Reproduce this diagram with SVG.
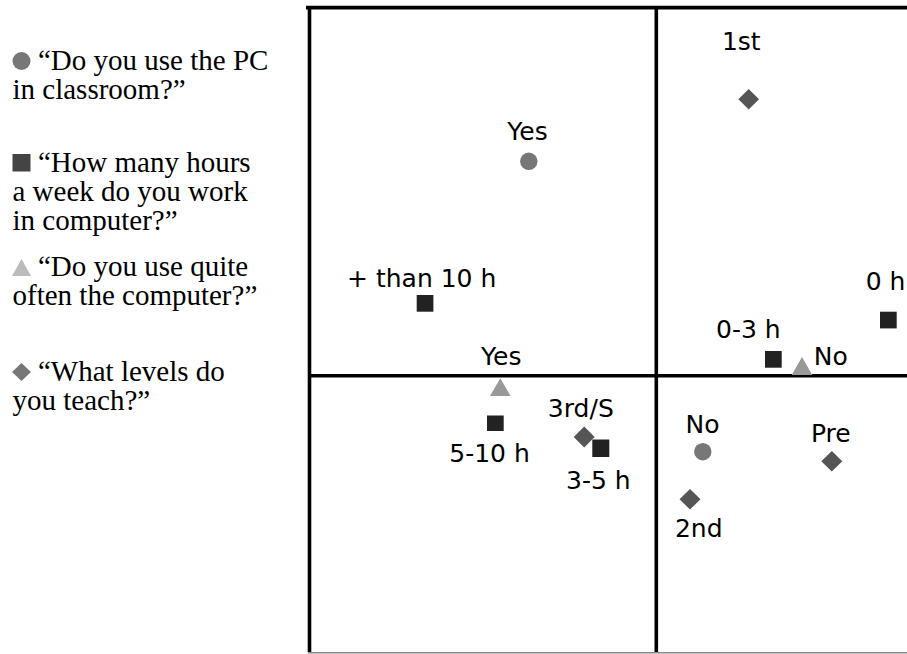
<svg xmlns="http://www.w3.org/2000/svg" width="907" height="654" viewBox="0 0 907 654">
<style>
.leg{font-family:"Liberation Serif","Times New Roman",serif;font-size:29px;fill:#000}
.lab{font-family:"DejaVu Sans","Verdana",sans-serif;font-size:25px;fill:#000;text-anchor:middle}
.ax{stroke:#000;stroke-width:3.6;fill:none}
.circ{fill:#777}
.sq{fill:#222}
.tri{fill:#999}
.dia{fill:#555}
</style>
<rect width="907" height="654" fill="#fff"/>
<g id="legend">
  <g id="legend-pc">
    <circle cx="21.5" cy="61" r="9" fill="#777"/>
    <text class="leg" x="38" y="70">“Do you use the PC</text>
    <text class="leg" x="12.5" y="99">in classroom?”</text>
  </g>
  <g id="legend-hours">
    <rect x="12.5" y="154" width="18" height="17.5" fill="#444"/>
    <text class="leg" x="38" y="172">“How many hours</text>
    <text class="leg" x="12.5" y="201">a week do you work</text>
    <text class="leg" x="12.5" y="230">in computer?”</text>
  </g>
  <g id="legend-often">
    <polygon points="21.5,259 31,276 12,276" fill="#bbb"/>
    <text class="leg" x="38" y="276">“Do you use quite</text>
    <text class="leg" x="12.5" y="305">often the computer?”</text>
  </g>
  <g id="legend-levels">
    <polygon points="21.5,363 31,372 21.5,381 12,372" fill="#777"/>
    <text class="leg" x="38" y="381">“What levels do</text>
    <text class="leg" x="12.5" y="410">you teach?”</text>
  </g>
</g>
<g id="frame">
  <line class="ax" x1="306" y1="7.6" x2="907" y2="7.6"/>
  <line class="ax" x1="309.5" y1="6" x2="309.5" y2="652"/>
  <line class="ax" x1="656.3" y1="6" x2="656.3" y2="652"/>
  <line class="ax" x1="309" y1="375.8" x2="907" y2="375.8"/>
  <line x1="308" y1="652.8" x2="907" y2="652.8" stroke="#888" stroke-width="1.6"/>
</g>
<g id="connectors"></g>
<g id="n-1st">
  <polygon class="dia" points="748.7,89 759,99.2 748.7,109.5 738.4,99.2"/>
  <text class="lab" x="741.3" y="50">1st</text>
</g>
<g id="n-pc-yes">
  <circle class="circ" cx="528.8" cy="161.3" r="8.7"/>
  <text class="lab" x="527.5" y="140">Yes</text>
</g>
<g id="n-more10h">
  <rect class="sq" x="416.7" y="295" width="16.7" height="16.7"/>
  <text class="lab" x="421.7" y="287">+ than 10 h</text>
</g>
<g id="n-0h">
  <rect class="sq" x="880" y="311.7" width="16.7" height="16.7"/>
  <text class="lab" x="885.5" y="290">0 h</text>
</g>
<g id="n-0-3h">
  <rect class="sq" x="765" y="351" width="16.7" height="16.7"/>
  <text class="lab" x="748.3" y="338">0-3 h</text>
</g>
<g id="n-often-no">
  <polygon class="tri" points="802,357 812.3,375 791.7,375"/>
  <text class="lab" x="830.7" y="365">No</text>
</g>
<g id="n-often-yes">
  <polygon class="tri" points="500.3,378.3 510.6,396 490,396"/>
  <text class="lab" x="501.3" y="365">Yes</text>
</g>
<g id="n-5-10h">
  <rect class="sq" x="487" y="415.5" width="16.7" height="15.5"/>
  <text class="lab" x="489.5" y="462">5-10 h</text>
</g>
<g id="n-3rd">
  <polygon class="dia" points="584.2,426.5 594.7,437 584.2,447.5 573.7,437"/>
  <text class="lab" x="580.8" y="417">3rd/S</text>
</g>
<g id="n-3-5h">
  <rect class="sq" x="592.3" y="439.5" width="17" height="17.5"/>
  <text class="lab" x="598.3" y="489">3-5 h</text>
</g>
<g id="n-pc-no">
  <circle class="circ" cx="702.8" cy="451.7" r="8.7"/>
  <text class="lab" x="702.5" y="432.7">No</text>
</g>
<g id="n-pre">
  <polygon class="dia" points="831.8,451 842.3,461.3 831.8,471.6 821.3,461.3"/>
  <text class="lab" x="830.8" y="442">Pre</text>
</g>
<g id="n-2nd">
  <polygon class="dia" points="690,489 700.5,499.2 690,509.4 679.5,499.2"/>
  <text class="lab" x="698.7" y="537">2nd</text>
</g>
</svg>
